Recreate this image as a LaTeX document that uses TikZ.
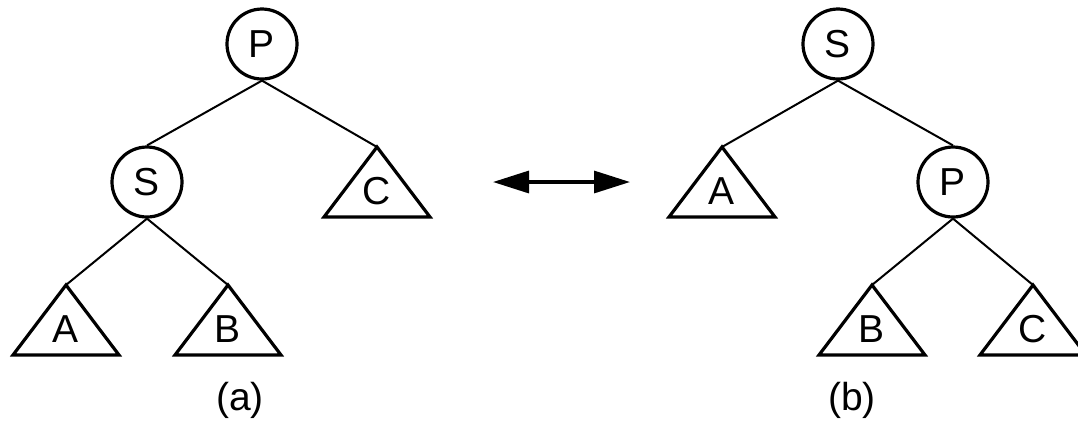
\documentclass[tikz,border=0pt]{standalone}
\usepackage{fontspec}
\setmainfont{Liberation Sans}
\usepackage{tikz}
\usetikzlibrary{arrows.meta}
\usetikzlibrary{calc}

\begin{document}
\begin{tikzpicture}[x=.5pt, y=-.5pt,
    every node/.style={font=\fontsize{19.5}{23}\selectfont},
    vertex/.style={draw, circle, line width=1.6pt, minimum size=35pt, inner sep=0pt},
    subtree/.style={line width=1.6pt, line join=miter},
    edge/.style={line width=1pt}]
    \useasboundingbox (0,0) rectangle (1078,420);

    % (a): P above S
    \node[vertex] (aP) at (262,44) {P};
    \node[vertex] (aS) at (147,182) {S};

    % (b): S above P
    \node[vertex] (bS) at (838,44) {S};
    \node[vertex] (bP) at (953,182) {P};

    % subtrees (triangles, named by their apex)
    \foreach \n/\x/\y/\t in {aA/66/285/A, aB/228/285/B, aC/377/147/C,
                             bA/722/147/A, bB/872/285/B, bC/1033/285/C}
    {
      \coordinate (\n) at (\x,\y);
      \draw[subtree] (\n) -- ++(-53,70) -- ++(106,0) -- cycle;
      \node (\n-label) at ($(\n)+(0,44)$) {\t};
    }

    % edges
    \draw[edge] (aP.south) -- (aS.north);
    \draw[edge] (aP.south) -- (aC);
    \draw[edge] (aS.south) -- (aA);
    \draw[edge] (aS.south) -- (aB);
    \draw[edge] (bS.south) -- (bA);
    \draw[edge] (bS.south) -- (bP.north);
    \draw[edge] (bP.south) -- (bB);
    \draw[edge] (bP.south) -- (bC);

    % rotation arrow
    \coordinate (rotL) at (493,182);
    \coordinate (rotR) at (630,182);
    \draw[line width=1.6pt, {Triangle[length=18pt,width=11pt]}-{Triangle[length=18pt,width=11pt]}]
      (rotL) -- (rotR);

    % captions
    \node (capA) at (240,400) {(a)};
    \node (capB) at (852,400) {(b)};
\end{tikzpicture}
\end{document}
